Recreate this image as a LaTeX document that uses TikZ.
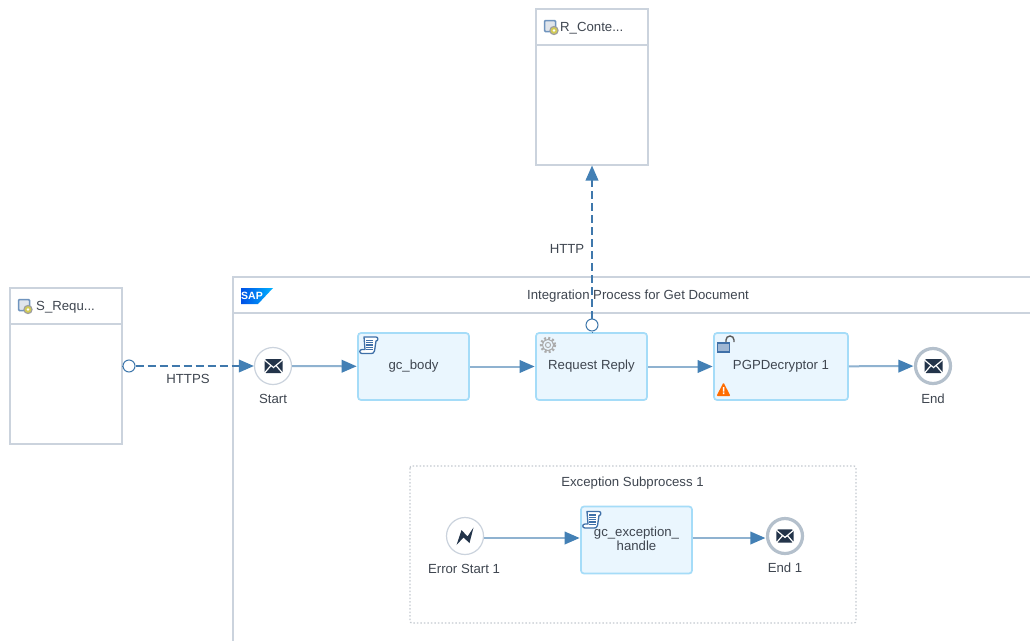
\documentclass[tikz,border=0pt]{standalone}
\usepackage{fontspec}
\setmainfont{Liberation Sans}
\usetikzlibrary{arrows.meta,shadings}
\definecolor{frameC}{HTML}{CBD3DD}
\definecolor{txtC}{HTML}{3F4650}
\definecolor{taskB}{HTML}{A5DCF8}
\definecolor{taskF}{HTML}{EAF6FE}
\definecolor{flowC}{HTML}{8FB2D0}
\definecolor{tipC}{HTML}{4380B5}
\definecolor{msgC}{HTML}{3F78AC}
\definecolor{darkC}{HTML}{23344A}
\definecolor{endC}{HTML}{B4C0CC}
\definecolor{dotC}{HTML}{C4CAD0}
\definecolor{iconB}{HTML}{3F70A8}
\tikzset{
  lbl/.style={font=\fontsize{13.2}{13.5}\selectfont,text=txtC,inner sep=0pt,align=center},
  partbox/.style={draw=frameC,line width=1.8pt,fill=white,minimum width=112pt,minimum height=156pt,inner sep=0pt,outer sep=0pt,anchor=north west},
  taskbox/.style={draw=taskB,line width=1.7pt,fill=taskF,rounded corners=3pt,minimum height=67pt,inner sep=0pt,font=\fontsize{13.2}{13.5}\selectfont,text=txtC,align=center},
  startev/.style={circle,draw=frameC,line width=1.2pt,fill=white,minimum size=37pt,inner sep=0pt},
  endev/.style={circle,draw=endC,line width=3.2pt,fill=white,minimum size=35pt,inner sep=0pt},
  port/.style={circle,draw=msgC,line width=1pt,fill=white,minimum size=12pt,inner sep=0pt},
  seqflow/.style={draw=flowC,line width=2pt,-{Triangle[length=15pt,width=12.5pt,color=tipC]},shorten >=0.5pt},
  msgflow/.style={draw=msgC,line width=2pt,dash pattern=on 8pt off 4pt,-{Triangle[length=15pt,width=12.5pt,color=tipC]}},
  envelope/.pic={
    \fill[darkC,rounded corners=1.5pt] (-9,-7) rectangle (9,7);
    \draw[white,line width=1.2pt] (-9,-6) -- (0,1.5) -- (9,-6) (-9,7) -- (-2.5,-0.5) (9,7) -- (2.5,-0.5);
  },
  scripticon/.pic={
    \draw[iconB,line width=1.3pt,fill=white,line join=round] (-5,-8) -- (7,-8) .. controls (9.5,-8) and (9.5,-4) .. (7,-4) -- (5.5,6) .. controls (5,8.5) and (3,8.5) .. (2,8.5) -- (-7,8.5) .. controls (-10,8.5) and (-10,4.5) .. (-7,4.5) -- (-4,4.5) -- cycle;
    \foreach \yy in {-4.5,-2.2,0.1,2.4,4.7}{\draw[iconB,line width=1.3pt] (-2.8,\yy) -- (3.8,\yy);}
  },
  gearicon/.pic={
    \draw[gray!65,line width=2.8pt,dash pattern=on 2pt off 2pt] (0,0) circle (6.8);
    \draw[gray!65,line width=1pt,fill=taskF] (0,0) circle (5.6);
    \draw[gray!65,line width=1pt] (0,0) circle (2.6);
  },
  sysicon/.pic={
    \draw[iconB!75,line width=1.5pt,fill=frameC!60,rounded corners=1pt] (-6.5,-7.5) rectangle (4.5,3.5);
    \fill[gray!75] (3,2.5) circle (4.7);
    \fill[yellow!60!gray] (3,2.5) circle (3.3);
    \fill[white] (3,2.5) circle (1.4);
  }
}
\begin{document}
\begin{tikzpicture}[x=1pt,y=-1pt]
\useasboundingbox (0,0) rectangle (1030,640);
\clip (0,0) rectangle (1030,640);
\fill[white] (0,0) rectangle (1030,640);

% participants
\node[partbox] (rbox) at (536,9) {};
\draw[frameC,line width=1.8pt] (536,45) -- (648,45);
\pic at (551,28) {sysicon};
\node[lbl,anchor=west] (rname) at (560,28) {R\_Conte...};

\node[partbox] (sbox) at (10,288) {};
\draw[frameC,line width=1.8pt] (10,324) -- (122,324);
\pic at (25,307) {sysicon};
\node[lbl,anchor=west] (sname) at (36,307) {S\_Requ...};

% integration process
\draw[frameC,line width=1.8pt] (1031,277) -- (233,277) -- (233,641);
\draw[frameC,line width=1.8pt] (233,313) -- (1031,313);
\shade[left color=blue!65!cyan!90!black,right color=cyan!70!blue,shading angle=90] (241,288) -- (273,288) -- (258,304) -- (241,304) -- cycle;
\node[font=\bfseries\fontsize{10.5}{10.5}\selectfont,text=white,inner sep=0pt] (saplogo) at (252,296) {SAP};
\node[lbl] (ptitle) at (638,296) {Integration Process for Get Document};

% exception subprocess
\draw[dotC,line width=1.3pt,dash pattern=on 1.5pt off 2pt,rounded corners=2pt] (410,466) rectangle (856,623);
\node[lbl] (etitle) at (632.5,483) {Exception Subprocess 1};

% main flow nodes
\node[startev] (start) at (273,366) {};
\pic at (273.5,366) {envelope};
\node[lbl] (startl) at (273,399) {Start};
\node[taskbox,minimum width=111pt] (body) at (413.5,366.5) {gc\_body};
\node[taskbox,minimum width=111pt] (reply) at (591.5,366.5) {Request Reply};
\node[taskbox,minimum width=134pt] (pgp) at (781,366.5) {PGPDecryptor 1};
\node[endev] (end) at (933,366) {};
\pic at (933.5,366) {envelope};
\node[lbl] (endl) at (933,399) {End};

\pic at (369,345) {scripticon};
\pic at (548,345) {gearicon};
% lock
\draw[gray!70!black,line width=1.4pt] (726,344) -- (726,340) arc[start angle=180,end angle=360,radius=4] -- (734,342);
\draw[iconB,line width=1.5pt,fill=iconB!50] (717.5,343) rectangle (729.5,352);
% warning
\fill[orange!85!red,rounded corners=1pt] (723.5,382.5) -- (730.5,396) -- (716.5,396) -- cycle;
\fill[white] (722.8,387) rectangle (724.4,391.5) (722.8,392.3) rectangle (724.4,394);

% exception nodes
\node[startev] (err) at (465,536) {};
\fill[darkC] (456.5,545) -- (461.5,530) -- (467.5,536.5) -- (473.5,527.5) -- (469.5,543) -- (463.5,537.5) -- cycle;
\node[lbl] (errl) at (464,569) {Error Start 1};
\node[taskbox,minimum width=111pt] (exc) at (636.5,540) {};
\pic at (592,519.5) {scripticon};
\node[lbl] (exct) at (636.5,539) {gc\_exception\_\\handle};
\node[endev] (end1) at (785,536) {};
\pic[scale=0.95] at (785,536) {envelope};
\node[lbl] (end1l) at (785,568) {End 1};

% ports
\node[port] (sport) at (129,366) {};
\node[port] (rport) at (592,325) {};
\coordinate (rboxbottom) at (592,165.5);

% sequence flows
\draw[seqflow] (start) -- (body);
\draw[seqflow] (body) -- (reply);
\draw[seqflow] (reply) -- (pgp);
\draw[seqflow] (pgp) -- (end);
\draw[seqflow] ([yshift=-2pt]err.east) -- ([yshift=-2pt]exc.west |- err.east);
\draw[seqflow] ([yshift=-2pt]exc.east |- end1.west) -- ([yshift=-2pt]end1.west);

% message flows
\draw[msgflow] (sport) -- (start);
\draw[msgflow] (rport) -- (rboxbottom);
\draw[msgC,line width=1pt] (122,366) -- (sport.west);
\draw[msgC,line width=1pt] (reply.north -| rport) -- (rport.south);
\node[lbl] (https) at (188,379) {HTTPS};
\node[lbl] (http) at (567,249) {HTTP};
\end{tikzpicture}
\end{document}
